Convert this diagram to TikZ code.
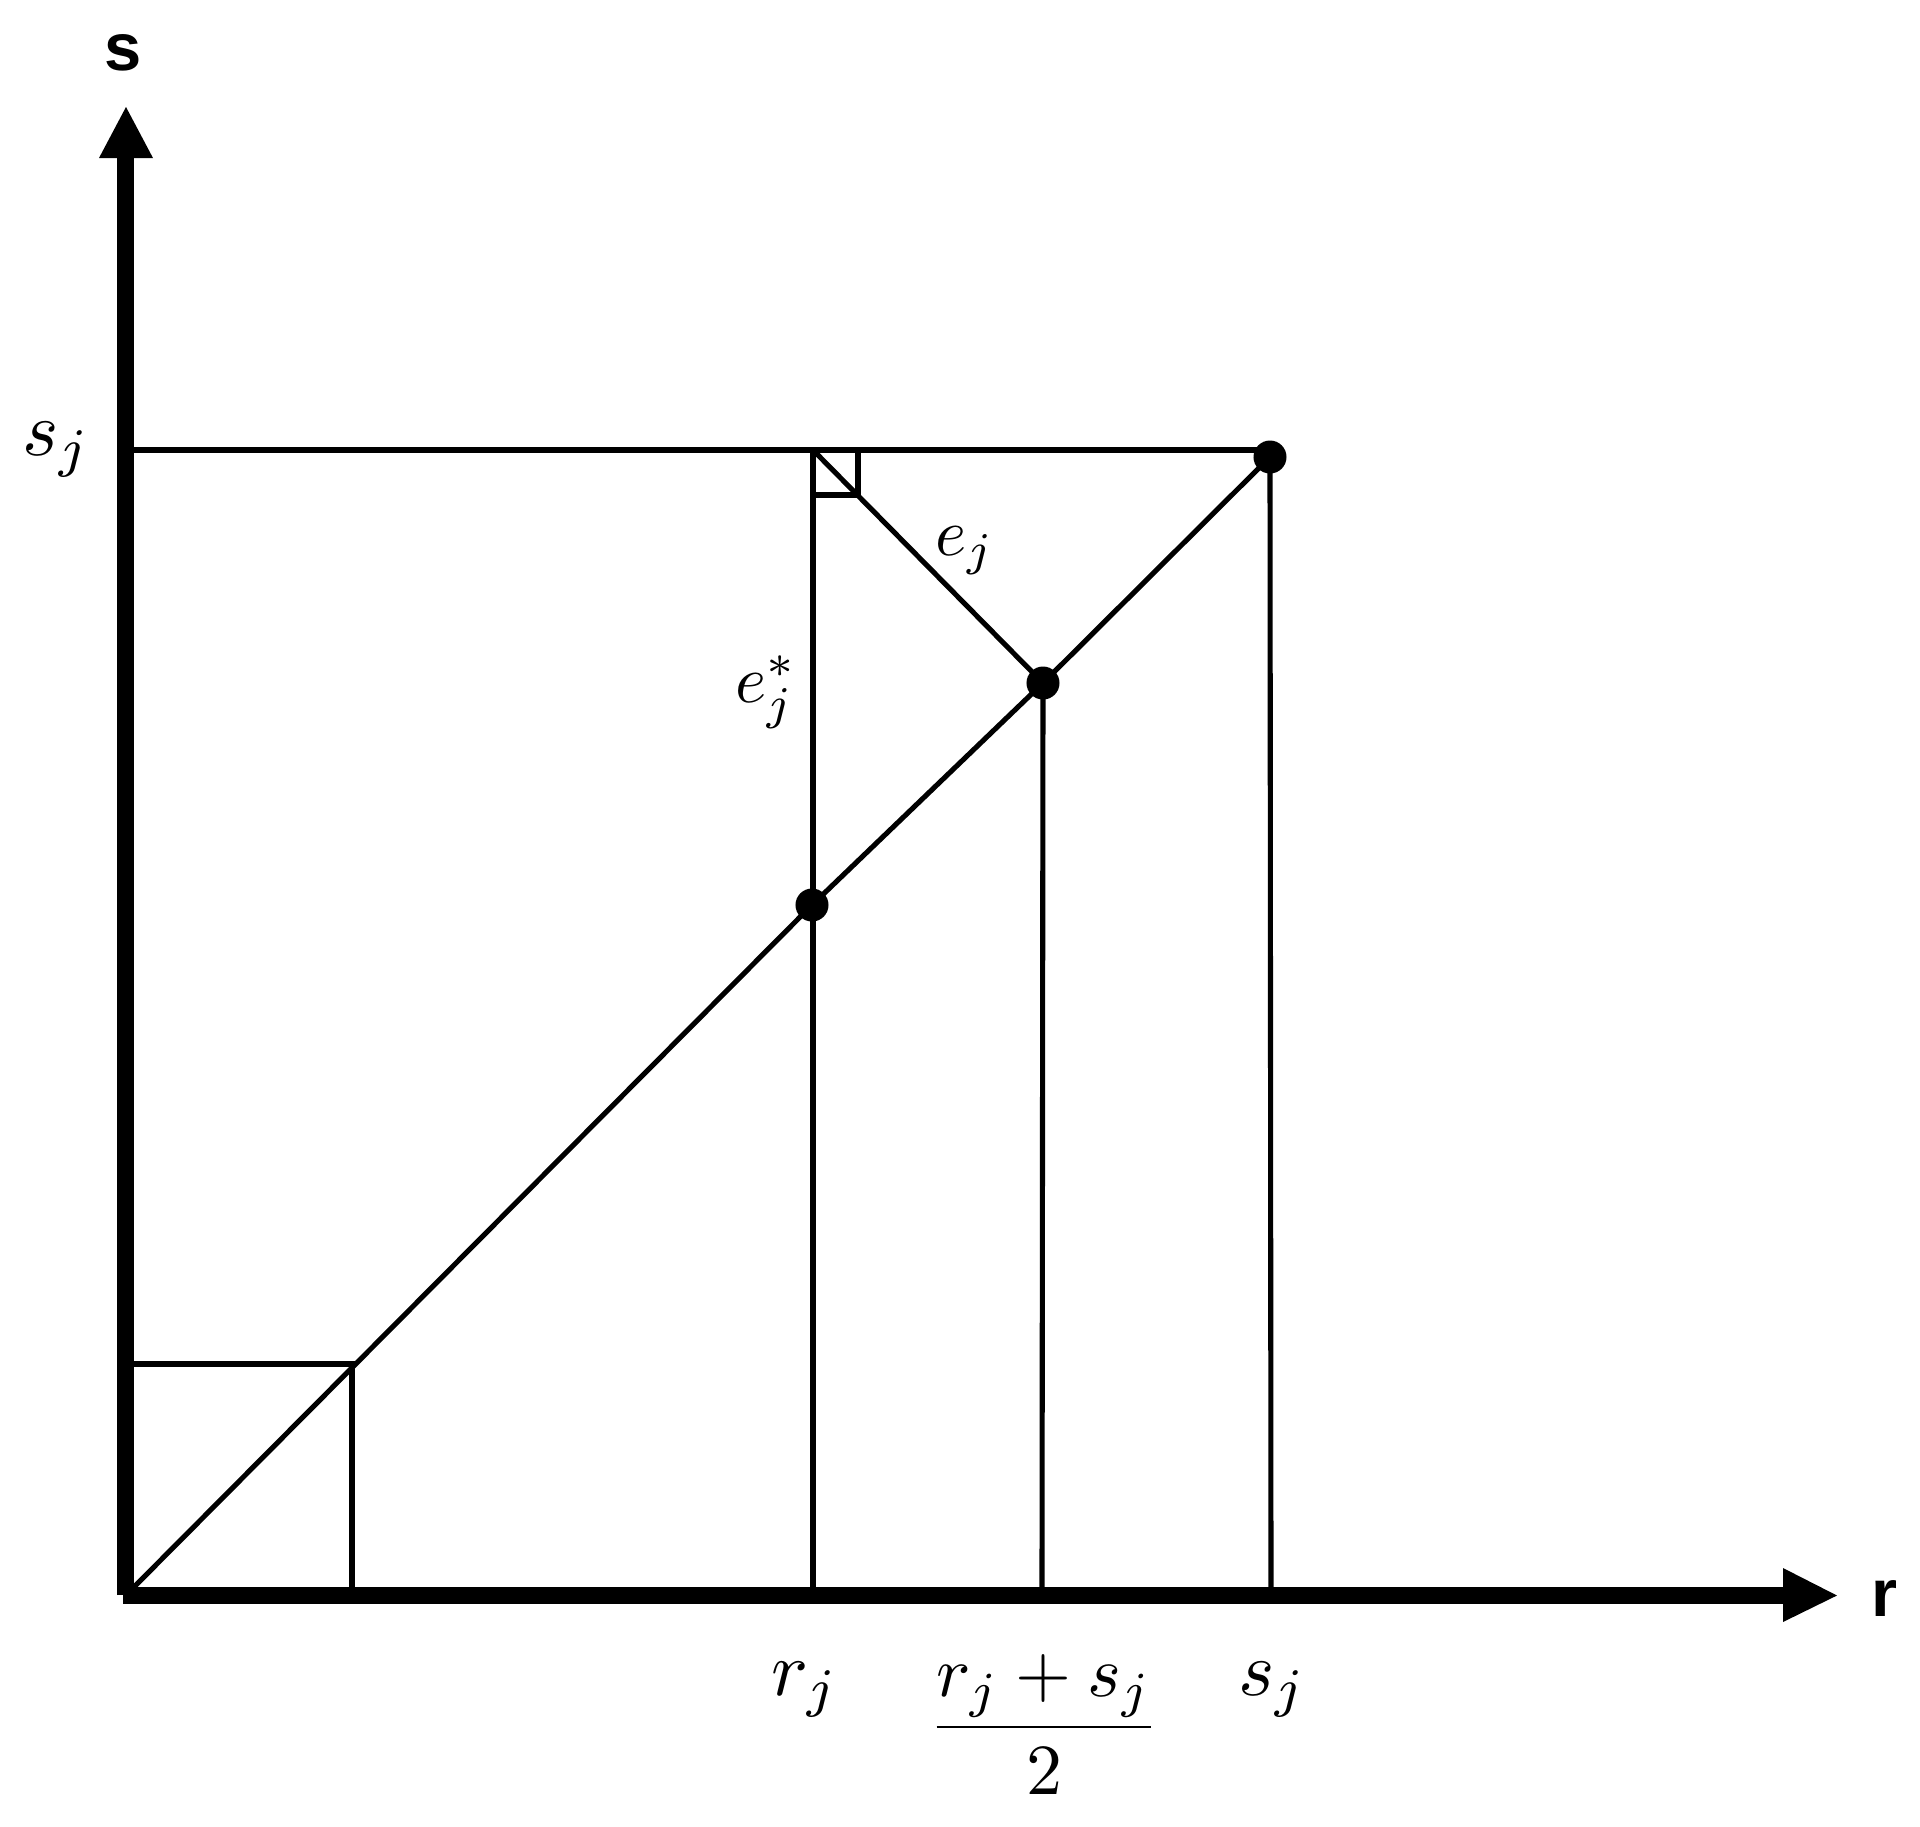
\documentclass[tikz,border=0pt]{standalone}
\usepackage{fontspec}
\newfontfamily\axfont{Liberation Sans}
\begin{document}
\begin{tikzpicture}[x=0.01cm,y=-0.01cm,
  thin line/.style={line width=1.45pt},
  axis line/.style={line width=4.8pt},
  dot/.style={circle,fill=black,inner sep=0pt,minimum size=0.33cm},
  axlabel/.style={font=\axfont\bfseries\fontsize{19}{22}\selectfont,inner sep=0pt},
  biglabel/.style={scale=2.2,inner sep=0pt,anchor=base},
  smalllabel/.style={scale=1.9,inner sep=0pt,anchor=base}]
\useasboundingbox (0,0) rectangle (1920,1826);
% key points
\coordinate (inner) at (134,1587);
\coordinate (ytop) at (125.5,158);
\coordinate (xend) at (1783,1595.5);
\coordinate (xstart) at (123,1595.5);
\coordinate (ybot) at (125.5,1595);
\coordinate (topL) at (134,450);
\coordinate (topR) at (1270,450);
\coordinate (corner) at (813,450);
\node[dot] (P1) at (812,905) {};
\node[dot] (P2) at (1043,683) {};
\node[dot] (P3) at (1270,457) {};
\coordinate (rjB) at (813,1587);
\coordinate (midB) at (1042,1587);
\coordinate (sjB) at (1271,1587);
\coordinate (sqTL) at (134,1364);
\coordinate (sqTR) at (352,1364);
\coordinate (sqB) at (352,1587);
% axes
\draw[axis line] (ybot) -- (ytop);
\draw[axis line] (xstart) -- (xend);
\fill (99,158) -- (153,158) -- (126,107) -- cycle;
\fill (1783,1568) -- (1783,1622) -- (1837,1595.5) -- cycle;
\node[axlabel] (slab) at (123,53) {s};
\node[axlabel] (rlab) at (1884,1598) {r};
% thin lines
\draw[thin line] (topL) -- (topR);
\draw[thin line] (corner) -- (rjB);
\draw[thin line] (P2.center) -- (midB);
\draw[thin line] (P3.center) -- (sjB);
\draw[thin line] (inner) -- (P1.center) -- (P2.center) -- (P3.center);
\draw[thin line] (sqTL) -- (sqTR) -- (sqB);
\draw[thin line] (corner) -- (P2.center);
\draw[thin line] (858,450) -- (858,495) -- (813,495);
% labels
\node[biglabel] (sjL) at (57,455) {$s_j$};
\node[biglabel] (rjlab) at (805,1695) {$r_j$};
\node[biglabel] (sjlab) at (1273,1695) {$s_j$};
\node[biglabel,scale=0.93] (frac) at (1044,1745) {$\displaystyle\frac{r_j+s_j}{2}$};
\node[smalllabel] (ej) at (965,555) {$e_j$};
\node[smalllabel] (ejs) at (766,702) {$e_j^*$};
\end{tikzpicture}
\end{document}
